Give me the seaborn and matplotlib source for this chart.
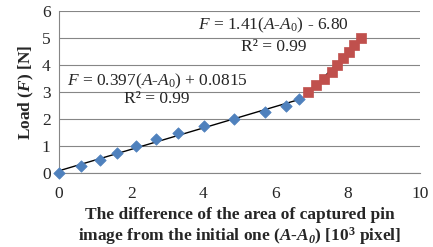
import numpy as np
import pandas as pd
import seaborn as sns
import matplotlib.pyplot as plt

# measured points (A-A0 in 10^3 pixel, load in N)
blue_x = [0.0, 0.61, 1.13, 1.62, 2.13, 2.69, 3.30, 4.03, 4.86, 5.72, 6.29, 6.65]
blue_y = [0.0, 0.25, 0.50, 0.75, 1.00, 1.25, 1.50, 1.75, 2.00, 2.25, 2.50, 2.75]
red_x = [6.89, 7.12, 7.34, 7.55, 7.69, 7.86, 8.03, 8.17, 8.36]
red_y = [3.00, 3.25, 3.50, 3.75, 4.00, 4.25, 4.50, 4.75, 5.00]

# linear fits (slope, intercept)
blue_fit = (0.397, 0.0815)
red_fit = (1.41, -6.80)

sns.set_style("white")
plt.rcParams["font.family"] = ["Liberation Serif", "DejaVu Serif"]
plt.rcParams["mathtext.fontset"] = "custom"
plt.rcParams["mathtext.rm"] = "Liberation Serif"
plt.rcParams["mathtext.it"] = "Liberation Serif:italic"
plt.rcParams["mathtext.bf"] = "Liberation Serif:bold"
plt.rcParams["mathtext.bfit"] = "Liberation Serif:italic:bold"

fs = 12.5
fig = plt.figure(figsize=(4.33, 2.47), dpi=100)
ax = fig.add_axes([59 / 433, 1 - 173 / 247, 361 / 433, 162 / 247])

grid_c = "#868686"
ax.set_xlim(0, 10)
ax.set_ylim(0, 6)
ax.set_xticks(range(0, 11, 2))
ax.set_yticks(range(0, 7))
ax.yaxis.grid(True, color=grid_c, linewidth=0.8)
ax.set_axisbelow(True)
for s in ["top", "right"]:
    ax.spines[s].set_visible(False)
for s in ["left", "bottom"]:
    ax.spines[s].set_color(grid_c)
    ax.spines[s].set_linewidth(0.8)
ax.tick_params(axis="x", length=4, color=grid_c, labelsize=fs, pad=5)
ax.tick_params(axis="y", length=0, labelsize=fs, pad=6)

# trend lines
for xs, (m, b) in [(blue_x, blue_fit), (red_x, red_fit)]:
    lx = np.array([min(xs), max(xs)])
    sns.lineplot(x=lx, y=m * lx + b, color="black", linewidth=1.0, ax=ax)

df_b = pd.DataFrame({"x": blue_x, "y": blue_y})
df_r = pd.DataFrame({"x": red_x, "y": red_y})
sns.scatterplot(data=df_b, x="x", y="y", marker="D", s=34, color="#4F81BD",
                edgecolor="#4F81BD", linewidth=0.5, ax=ax, zorder=3, clip_on=False)
sns.scatterplot(data=df_r, x="x", y="y", marker="s", s=55, color="#C0504D",
                edgecolor="#C0504D", linewidth=0.5, ax=ax, zorder=3, clip_on=False)

ax.text(2.72, 3.4, r"$F$ = 0.397($A$-$A_0$) + 0.0815", ha="center", va="center", fontsize=fs)
ax.text(2.72, 2.75, "R² = 0.99", ha="center", va="center", fontsize=fs)
ax.text(5.95, 5.45, r"$F$ = 1.41($A$-$A_0$) - 6.80", ha="center", va="center", fontsize=fs)
ax.text(5.95, 4.68, "R² = 0.99", ha="center", va="center", fontsize=fs)

ax.set_ylabel(r"Load ($\mathbfit{F}$) [N]", fontsize=fs, fontweight="bold", labelpad=4)
ax.set_xlabel("The difference of the area of captured pin\n"
              r"image from the initial one ($\mathbfit{A}$-$\mathbfit{A}_\mathbfit{0}$) [10$^\mathbf{3}$ pixel]",
              fontsize=fs, fontweight="bold", labelpad=4, linespacing=1.15)

fig.savefig("out.png", dpi=100)
